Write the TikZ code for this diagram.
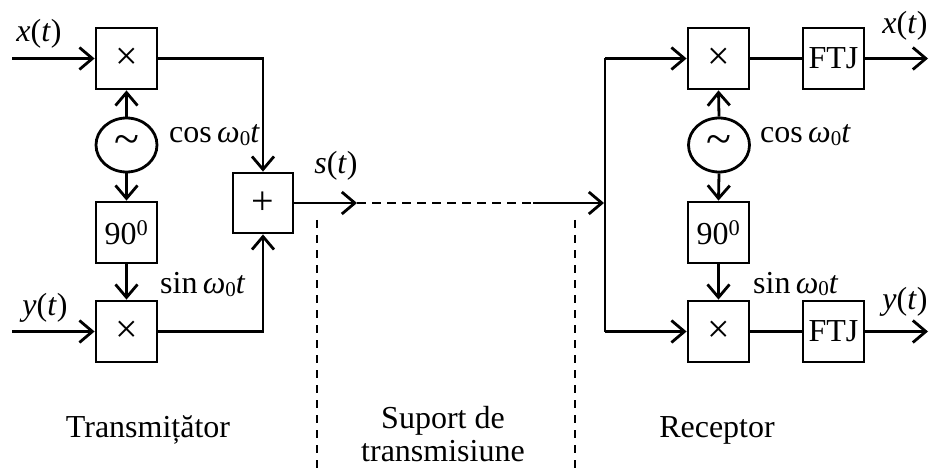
\documentclass[tikz,border=0pt]{standalone}
\usepackage{fontspec}
\setmainfont{Liberation Serif}
\usetikzlibrary{arrows.meta,shapes.geometric}
\tikzset{
  blk/.style={draw,line width=2.8pt,minimum width=61pt,minimum height=61pt,inner sep=0pt,font=\fontsize{32}{36}\selectfont},
  osc/.style={draw,ellipse,line width=2.8pt,minimum width=61pt,minimum height=54pt,inner sep=0pt,font=\fontsize{46}{46}\selectfont},
  wire/.style={line width=2.8pt},
  arr/.style={wire,-{Straight Barb[length=13pt,width=22pt,line width=2.8pt]}},
  lbl/.style={inner sep=0pt,font=\fontsize{32}{36}\selectfont},
  vdash/.style={line width=2.2pt,dash pattern=on 8pt off 7pt},
  sym/.style={font=\fontsize{40}{40}\selectfont},
}
\newcommand{\omz}{\textit{ω}\raisebox{-0.2ex}{\fontsize{21}{22}\selectfont 0}\textit{t}}
\begin{document}
\begin{tikzpicture}[x=1pt,y=-1pt]
\useasboundingbox (0,0) rectangle (930,468);
% transmitter
\node[blk,sym] (m1) at (126.5,58.5) {×};
\node[osc] (o1) at (126.5,145) {\raisebox{-0.35ex}{\textasciitilde}};
\node[blk] (p1) at (126.5,232.5) {90\textsuperscript{0}};
\node[blk,sym] (m2) at (126.5,331.5) {×};
\node[blk,sym,minimum width=60pt,minimum height=60pt] (ad) at (263,203) {+};
\coordinate (xin) at (12,58.5);
\coordinate (yin) at (12,331.5);
\draw[arr] (xin) -- (m1.west);
\draw[arr] (yin) -- (m2.west);
\draw[arr] (o1.north) -- (m1.south);
\draw[arr] (o1.south) -- (p1.north);
\draw[arr] (p1.south) -- (m2.north);
\draw[arr] (m1.east) -| (ad.north);
\draw[arr] (m2.east) -| (ad.south);
% channel
\coordinate (s1) at (357,203);
\coordinate (s2) at (533,203);
\coordinate (sp) at (605,203);
\coordinate (top) at (605,58.5);
\coordinate (bot) at (605,331.5);
\draw[arr] (ad.east) -- (s1);
\draw[wire,dash pattern=on 9pt off 6pt] (s1) -- (s2);
\draw[arr,shorten >=1pt] (s2) -- (sp);
\draw[wire] (top) -- (bot);
\coordinate (d1t) at (317,220);
\coordinate (d1b) at (317,468);
\coordinate (d2t) at (575,220);
\coordinate (d2b) at (575,468);
\draw[vdash] (d1t) -- (d1b);
\draw[vdash] (d2t) -- (d2b);
% receiver
\node[blk,sym] (rm1) at (718.5,58.5) {×};
\node[osc] (o2) at (719,145) {\raisebox{-0.35ex}{\textasciitilde}};
\node[blk] (p2) at (718.5,232.5) {90\textsuperscript{0}};
\node[blk,sym] (rm2) at (718.5,331.5) {×};
\node[blk] (f1) at (833.5,58.5) {FTJ};
\node[blk] (f2) at (833.5,331.5) {FTJ};
\coordinate (xo) at (928,58.5);
\coordinate (yo) at (928,331.5);
\draw[arr] (top) -- (rm1.west);
\draw[arr] (bot) -- (rm2.west);
\draw[arr] (o2.north) -- (rm1.south);
\draw[arr] (o2.south) -- (p2.north);
\draw[arr] (p2.south) -- (rm2.north);
\draw[wire] (rm1.east) -- (f1.west);
\draw[wire] (rm2.east) -- (f2.west);
\draw[arr] (f1.east) -- (xo);
\draw[arr] (f2.east) -- (yo);
% labels
\node[lbl,anchor=base] (lx) at (39,42) {\textit{x}(\textit{t})};
\node[lbl,anchor=base] (ly) at (45,315) {\textit{y}(\textit{t})};
\node[lbl,anchor=base west] (lc1) at (169,143) {cos\,\omz};
\node[lbl,anchor=base west] (ls1) at (160,294) {sin\,\omz};
\node[lbl,anchor=base] (lst) at (336,174) {\textit{s}(\textit{t})};
\node[lbl,anchor=base west] (lc2) at (760,143) {cos\,\omz};
\node[lbl,anchor=base west] (ls2) at (753,293) {sin\,\omz};
\node[lbl,anchor=base] (lxo) at (905,34) {\textit{x}(\textit{t})};
\node[lbl,anchor=base] (lyo) at (905,309) {\textit{y}(\textit{t})};
\node[lbl,anchor=base] (tr) at (148,437) {Transmițător};
\node[lbl,anchor=base] (rc) at (717,437) {Receptor};
\node[lbl,anchor=base] (sup1) at (443,428) {Suport de};
\node[lbl,anchor=base] (sup2) at (443,461) {transmisiune};
\end{tikzpicture}
\end{document}
